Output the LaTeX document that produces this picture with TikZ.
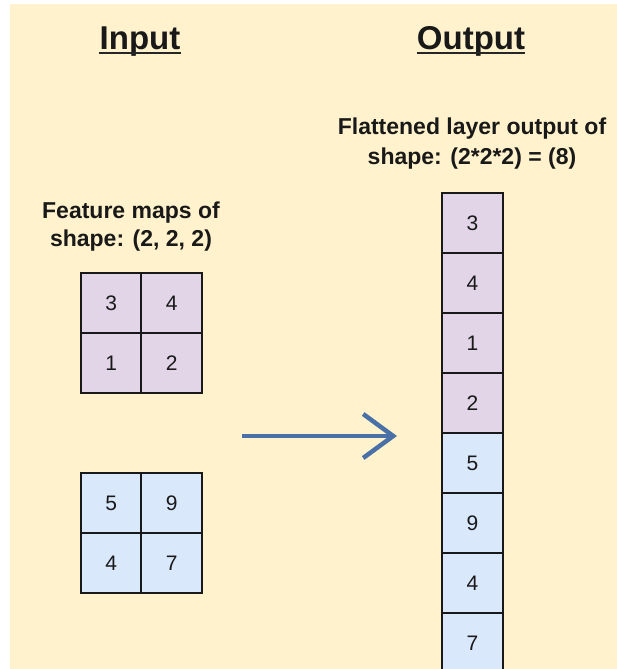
\documentclass[tikz,border=0pt]{standalone}
\usepackage{fontspec}
\setmainfont{Liberation Sans}
\usepackage{xcolor}
\usetikzlibrary{arrows.meta, positioning}

\definecolor{paper}{HTML}{FFF2CC}
\definecolor{mapA}{HTML}{E1D5E7}
\definecolor{mapB}{HTML}{DAE8FC}
\definecolor{flow}{HTML}{4A70A8}

\begin{document}
\begin{tikzpicture}[x=1pt, y=-1pt,
  every node/.style={font=\fontsize{21}{24}\selectfont, text=black!90},
  cell/.style={draw=black!90, line width=1.7pt, minimum width=61pt,
    minimum height=60pt, inner sep=0pt},
  title/.style={font=\bfseries\fontsize{33}{38}\selectfont, inner sep=0pt, anchor=base},
  caption/.style={font=\bfseries\fontsize{23}{28}\selectfont, align=center, inner sep=0pt}]
\def\cellsize{60.5}

% Page and background
\useasboundingbox (0,0) rectangle (617,669);
\fill[paper] (10,4) rectangle (617,669);

% Headings
\node[title] (intitle) at (140,49) {Input};
\node[title] (outtitle) at (471,49) {Output};
\foreach \t in {intitle, outtitle} {
  \draw[line width=2pt, black!85]
    ([yshift=-4.5pt]\t.base west) -- ([yshift=-4.5pt]\t.base east);
}

% Captions
\node[caption] (mapcap) at (131,227) {Feature maps of\\shape: (2, 2, 2)};
\node[caption, font=\bfseries\fontsize{23}{30}\selectfont] (flatcap) at (472,144)
  {Flattened layer output of\\shape: (2*2*2) = (8)};

% First feature map
\foreach \v/\c/\r in {3/0/0, 4/1/0, 1/0/1, 2/1/1} {
  \node[cell, fill=mapA] (a-\r-\c)
    at (111.25+\c*\cellsize, 303+\r*60) {\v};
}

% Second feature map
\foreach \v/\c/\r in {5/0/0, 9/1/0, 4/0/1, 7/1/1} {
  \node[cell, fill=mapB] (b-\r-\c)
    at (111.25+\c*\cellsize, 503+\r*60) {\v};
}

% Flattened column
\foreach \v [count=\i from 0] in {3,4,1,2} {
  \node[cell, fill=mapA] (flat-\i) at (472.5, 223+\i*60) {\v};
}
\foreach \v [count=\i from 4] in {5,9,4,7} {
  \node[cell, fill=mapB] (flat-\i) at (472.5, 223+\i*60) {\v};
}

% Flatten arrow
\coordinate (arrowtail) at (242,436);
\coordinate (arrowtip) at (397,436);
\draw[flow, line width=4.5pt, -{Straight Barb[length=30pt, width=44pt]}]
  (arrowtail) -- (arrowtip);

\end{tikzpicture}
\end{document}
